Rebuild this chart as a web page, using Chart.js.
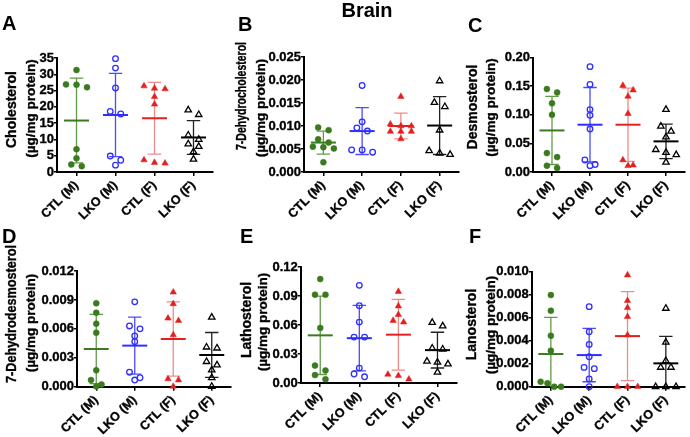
<!DOCTYPE html>
<html><head><meta charset="utf-8">
<script src="https://cdn.jsdelivr.net/npm/chart.js@4/dist/chart.umd.min.js"></script>
<style>
html,body{margin:0;padding:0;background:#fff;}
#wrap{position:relative;width:690px;height:437px;overflow:hidden;background:#fff;}
canvas{position:absolute;left:0;top:0;}
</style></head><body><div id="wrap"></div>
<script>
const FONT = '"Liberation Sans", Arial, sans-serif';
const groups = ['CTL (M)', 'LKO (M)', 'CTL (F)', 'LKO (F)'];
const figTitle = 'Brain';

// ---- A: Cholesterol ----
const cholCtlM = [31.3, 26.9, 26.8, 26.0, 7.0, 4.2, 2.3, 1.8];
const cholLkoM = [34.8, 31.9, 25.8, 18.6, 17.8, 4.9, 3.6, 2.1];
const cholCtlF = [26.4, 25.7, 25.5, 23.1, 20.8, 3.7, 2.9, 2.7];
const cholLkoF = [19.0, 17.6, 11.3, 10.0, 8.6, 7.8, 6.2, 3.9];
const cholMean = [15.8, 17.5, 16.5, 10.6];
const cholSd = [13.0, 12.8, 11.0, 5.2];
const cholTicks = [0, 5, 10, 15, 20, 25, 30, 35];
const cholTickLabels = ['0', '5', '10', '15', '20', '25', '30', '35'];

// ---- B: 7-Dehydrocholesterol ----
const dhcCtlM = [0.0097, 0.0091, 0.0071, 0.0064, 0.0055, 0.0054, 0.0051, 0.0021];
const dhcLkoM = [0.0188, 0.0109, 0.0096, 0.0089, 0.0048, 0.0048, 0.0043];
const dhcCtlF = [0.0164, 0.0104, 0.0100, 0.0100, 0.0088, 0.0088, 0.0088, 0.0072];
const dhcLkoF = [0.0198, 0.0151, 0.0142, 0.0091, 0.0046, 0.0041, 0.0038];
const dhcMean = [0.0064, 0.0089, 0.0100, 0.0101];
const dhcSd = [0.0025, 0.0051, 0.0028, 0.0063];
const dhcTicks = [0, 0.005, 0.010, 0.015, 0.020, 0.025];
const dhcTickLabels = ['0.000', '0.005', '0.010', '0.015', '0.020', '0.025'];

// ---- C: Desmosterol ----
const desCtlM = [0.145, 0.139, 0.120, 0.100, 0.033, 0.026, 0.011, 0.007];
const desLkoM = [0.184, 0.153, 0.109, 0.099, 0.075, 0.021, 0.013, 0.011];
const desCtlF = [0.151, 0.143, 0.132, 0.102, 0.021, 0.012, 0.011];
const desLkoF = [0.109, 0.080, 0.071, 0.061, 0.039, 0.034, 0.030, 0.017];
const desMean = [0.0726, 0.0826, 0.0826, 0.0535];
const desSd = [0.0595, 0.065, 0.064, 0.030];
const desTicks = [0, 0.05, 0.10, 0.15, 0.20];
const desTickLabels = ['0.00', '0.05', '0.10', '0.15', '0.20'];

// ---- D: 7-Dehydrodesmosterol ----
const ddsCtlM = [0.00865, 0.00768, 0.00654, 0.0056, 0.0017, 0.00069, 0.00024, 0.00003];
const ddsLkoM = [0.0088, 0.0063, 0.0060, 0.00526, 0.00467, 0.0015, 0.00093, 0.00069];
const ddsCtlF = [0.0098, 0.0086, 0.0071, 0.00685, 0.00536, 0.0008, 0.00069, 0.00003];
const ddsLkoF = [0.0072, 0.0041, 0.0040, 0.0026, 0.00225, 0.00173, 0.00093, 0.00003];
const ddsMean = [0.00391, 0.00426, 0.00495, 0.00329];
const ddsSd = [0.0036, 0.00295, 0.00385, 0.00233];
const ddsTicks = [0, 0.003, 0.006, 0.009, 0.012];
const ddsTickLabels = ['0.000', '0.003', '0.006', '0.009', '0.012'];

// ---- E: Lathosterol ----
const latCtlM = [0.1075, 0.0914, 0.0914, 0.057, 0.018, 0.0129, 0.0082, 0.0039];
const latLkoM = [0.101, 0.080, 0.063, 0.0475, 0.0475, 0.0154, 0.0093, 0.0064];
const latCtlF = [0.0946, 0.0796, 0.0707, 0.0646, 0.0629, 0.0089, 0.0075, 0.0039];
const latLkoF = [0.0625, 0.0589, 0.036, 0.035, 0.0225, 0.0214, 0.0196, 0.011];
const latMean = [0.0493, 0.0464, 0.050, 0.034];
const latSd = [0.0405, 0.0338, 0.0366, 0.0185];
const latTicks = [0, 0.03, 0.06, 0.09, 0.12];
const latTickLabels = ['0.00', '0.03', '0.06', '0.09', '0.12'];

// ---- F: Lanosterol ----
const lanCtlM = [0.00797, 0.00661, 0.00443, 0.00313, 0.00043, 0.00029, 0, 0];
const lanLkoM = [0.00696, 0.00478, 0.00368, 0.0026, 0.00168, 0.00157, 0.00067, 0];
const lanCtlF = [0.00971, 0.00748, 0.00687, 0.00609, 0.00449, 0, 0, 0];
const lanLkoF = [0.00681, 0.00386, 0.00226, 0.00168, 0.00168, 0, 0, 0];
const lanMean = [0.00284, 0.00275, 0.0044, 0.00203];
const lanSd = [0.00319, 0.00232, 0.00387, 0.00235];
const lanTicks = [0, 0.002, 0.004, 0.006, 0.008, 0.010];
const lanTickLabels = ['0.000', '0.002', '0.004', '0.006', '0.008', '0.010'];

// ---- styles ----
const styles = [
  {color: '#3b7a1f', bar: '#649a47', pointStyle: 'circle', filled: true, r: 3.0},
  {color: '#2f2fff', bar: '#4a4aff', pointStyle: 'circle', filled: false, r: 2.8},
  {color: '#e3201f', bar: '#ee8c8c', pointStyle: 'triangle', filled: true, r: 3.7},
  {color: '#000000', bar: '#222222', pointStyle: 'triangle', filled: false, r: 3.7}
];

const panels = [
  {letter: 'A', lx: 2, ly: 30, series: [cholCtlM, cholLkoM, cholCtlF, cholLkoF], mean: cholMean, sd: cholSd,
   ticks: cholTicks, tickLabels: cholTickLabels, box: {l: 57, r: 213, t: 58, b: 172},
   title: [{text: 'Cholesterol', x: 12, cy: 109.5, size: 14}, {text: '(µg/mg protein)', x: 31.2, cy: 108.5, size: 13.5}]},
  {letter: 'B', lx: 238, ly: 30.5, series: [dhcCtlM, dhcLkoM, dhcCtlF, dhcLkoF], mean: dhcMean, sd: dhcSd,
   ticks: dhcTicks, tickLabels: dhcTickLabels, box: {l: 304, r: 459, t: 57, b: 172},
   title: [{text: '7-Dehydrocholesterol', x: 242, cy: 96, size: 14, maxW: 108}, {text: '(µg/mg protein)', x: 261.2, cy: 108, size: 13.5}]},
  {letter: 'C', lx: 468, ly: 31.5, series: [desCtlM, desLkoM, desCtlF, desLkoF], mean: desMean, sd: desSd,
   ticks: desTicks, tickLabels: desTickLabels, box: {l: 533, r: 689, t: 57.5, b: 172},
   title: [{text: 'Desmosterol', x: 473.5, cy: 107, size: 14}, {text: '(µg/mg protein)', x: 491.5, cy: 107.5, size: 13.5}]},
  {letter: 'D', lx: 2, ly: 243, series: [ddsCtlM, ddsLkoM, ddsCtlF, ddsLkoF], mean: ddsMean, sd: ddsSd,
   ticks: ddsTicks, tickLabels: ddsTickLabels, box: {l: 77, r: 231, t: 271, b: 386.7},
   title: [{text: '7-Dehydrodesmosterol', x: 12, cy: 314, size: 14, maxW: 138}, {text: '(µg/mg protein)', x: 31.3, cy: 323, size: 13.5}]},
  {letter: 'E', lx: 240, ly: 243, series: [latCtlM, latLkoM, latCtlF, latLkoF], mean: latMean, sd: latSd,
   ticks: latTicks, tickLabels: latTickLabels, box: {l: 300.7, r: 457, t: 267, b: 383},
   title: [{text: 'Lathosterol', x: 246.8, cy: 320, size: 14}, {text: '(µg/mg protein)', x: 263.2, cy: 322, size: 13.5}]},
  {letter: 'F', lx: 469, ly: 243, series: [lanCtlM, lanLkoM, lanCtlF, lanLkoF], mean: lanMean, sd: lanSd,
   ticks: lanTicks, tickLabels: lanTickLabels, box: {l: 531.7, r: 689, t: 271.7, b: 386.7},
   title: [{text: 'Lanosterol', x: 471.8, cy: 324.5, size: 14}, {text: '(µg/mg protein)', x: 491.3, cy: 325, size: 13.5}]}
];

// simple row-based swarm: points within a few px vertically are spread symmetrically
function swarm(values, yMax, plotH) {
  const pxPer = plotH / yMax;
  const order = values.map((v, i) => i).sort((a, b) => values[b] - values[a]);
  const off = new Array(values.length).fill(0);
  let row = [];
  const flush = () => {
    const n = row.length;
    const half = Math.min((n - 1) / 2, 1);
    row.forEach((k, j) => { off[k] = n > 1 ? -half + 2 * half * j / (n - 1) : 0; });
    row = [];
  };
  order.forEach(k => {
    if (row.length && (values[row[0]] - values[k]) * pxPer > 5.5) flush();
    row.push(k);
  });
  flush();
  return off;
}

const W = 690, H = 437, SLOT = 10.5, YW = 52, XH = 50;
const wrap = document.getElementById('wrap');

panels.forEach((p, pi) => {
  const cv = document.createElement('canvas');
  cv.width = W; cv.height = H;
  cv.style.width = W + 'px'; cv.style.height = H + 'px';
  wrap.appendChild(cv);
  const yMax = p.ticks[p.ticks.length - 1];
  const plotH = p.box.b - p.box.t;
  const catPx = (p.box.r - p.box.l) / 4;

  const datasets = p.series.map((vals, gi) => {
    const st = styles[gi];
    const off = swarm(vals, yMax, plotH);
    return {
      label: groups[gi],
      data: vals.map((v, k) => ({x: gi + off[k] * SLOT / catPx, y: v})),
      pointStyle: st.pointStyle,
      pointRadius: st.r,
      pointHoverRadius: st.r,
      pointBackgroundColor: st.filled ? st.color : 'rgba(0,0,0,0)',
      pointBorderColor: st.color,
      pointBorderWidth: st.filled ? 0.5 : 1.3,
      showLine: false,
      clip: false
    };
  });

  const errPlugin = {
    id: 'errbars' + pi,
    beforeDatasetsDraw(chart) {
      const {ctx, scales: {x, y}} = chart;
      p.mean.forEach((m, gi) => {
        const st = styles[gi];
        const cx = x.getPixelForValue(gi);
        const up = y.getPixelForValue(m + p.sd[gi]);
        const lowV = m - p.sd[gi];
        const lo = y.getPixelForValue(Math.max(lowV, 0));
        const ym = y.getPixelForValue(m);
        ctx.save();
        ctx.strokeStyle = st.bar;
        ctx.lineWidth = 1.3;
        ctx.beginPath();
        ctx.moveTo(cx, up); ctx.lineTo(cx, lo);
        ctx.moveTo(cx - 6.7, up); ctx.lineTo(cx + 6.7, up);
        if (lowV > 0) { ctx.moveTo(cx - 6.7, lo); ctx.lineTo(cx + 6.7, lo); }
        ctx.stroke();
        ctx.strokeStyle = st.color;
        ctx.lineWidth = 2;
        ctx.beginPath();
        ctx.moveTo(cx - 12.5, ym); ctx.lineTo(cx + 12.5, ym);
        ctx.stroke();
        ctx.restore();
      });
    }
  };

  const textPlugin = {
    id: 'texts' + pi,
    afterDraw(chart) {
      const ctx = chart.ctx;
      ctx.save();
      ctx.fillStyle = '#000';
      ctx.strokeStyle = '#000';
      ctx.lineWidth = 0.35;
      ctx.textAlign = 'left';
      ctx.textBaseline = 'alphabetic';
      ctx.font = 'bold 20px ' + FONT;
      ctx.fillText(p.letter, p.lx, p.ly);
      if (pi === 1) {
        ctx.textAlign = 'center';
        ctx.fillText(figTitle, 367, 17);
      }
      p.title.forEach(t => {
        ctx.save();
        ctx.translate(t.x, t.cy);
        ctx.rotate(-Math.PI / 2);
        ctx.textAlign = 'center';
        ctx.textBaseline = 'middle';
        ctx.font = 'bold ' + t.size + 'px ' + FONT;
        if (t.maxW) { ctx.fillText(t.text, 0, 0, t.maxW); ctx.strokeText(t.text, 0, 0, t.maxW); }
        else { ctx.fillText(t.text, 0, 0); ctx.strokeText(t.text, 0, 0); }
        ctx.restore();
      });
      ctx.restore();
    }
  };

  new Chart(cv, {
    type: 'scatter',
    data: {datasets},
    plugins: [errPlugin, textPlugin],
    options: {
      responsive: false,
      animation: false,
      devicePixelRatio: 1,
      layout: {padding: {left: p.box.l - YW, right: W - p.box.r, top: p.box.t, bottom: H - p.box.b - XH}},
      plugins: {legend: {display: false}, tooltip: {enabled: false}, title: {display: false}},
      scales: {
        x: {
          type: 'linear', min: -0.5, max: 3.5,
          afterBuildTicks: s => { s.ticks = groups.map((g, i) => ({value: i})); },
          afterFit: s => { s.height = XH; },
          ticks: {
            autoSkip: false, minRotation: 45, maxRotation: 45, padding: 2,
            color: '#000', textStrokeColor: '#000', textStrokeWidth: 0.35,
            font: {family: FONT, size: 12.5, weight: 'bold'},
            callback: v => groups[v]
          },
          grid: {display: true, drawOnChartArea: false, drawTicks: true, tickLength: 4, color: '#000', lineWidth: 1.5},
          border: {display: true, color: '#000', width: 2}
        },
        y: {
          type: 'linear', min: 0, max: yMax,
          afterBuildTicks: s => { s.ticks = p.ticks.map(v => ({value: v})); },
          afterFit: s => { s.width = YW; },
          ticks: {
            autoSkip: false, padding: 0, color: '#000',
            textStrokeColor: '#000', textStrokeWidth: 0.35,
            font: {family: FONT, size: 13, weight: 'bold'},
            callback: (v, i) => p.tickLabels[i]
          },
          grid: {display: true, drawOnChartArea: false, drawTicks: true, tickLength: 3, color: '#000', lineWidth: 1.5},
          border: {display: true, color: '#000', width: 2}
        }
      }
    }
  });
});
</script>
</body></html>
